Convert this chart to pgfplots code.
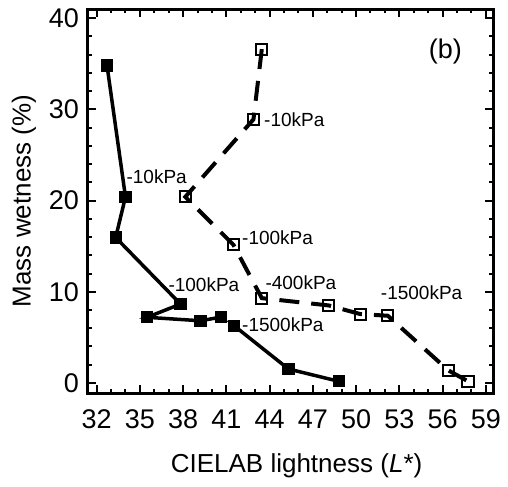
\documentclass[border=0pt]{standalone}
\usepackage{fontspec}
\setmainfont{Liberation Sans}
\usepackage{pgfplots}
\pgfplotsset{compat=1.18}

\begin{document}
\fontsize{13bp}{16bp}\selectfont
\begin{tikzpicture}
\begin{axis}[
  scale only axis,
  width=202.5bp, height=192bp,
  xmin=31.4, xmax=59.5,
  ymin=-1.1, ymax=41,
  xtick={32,35,...,59},
  ytick={0,10,...,40},
  minor x tick num=2,
  minor y tick num=4,
  tick align=inside,
  major tick length=4bp,
  minor tick length=2bp,
  every tick/.style={black, line width=1bp},
  axis line style={line width=1.5bp},
  /pgf/number format/assume math mode=true,
  tick label style={font=\fontsize{13.5bp}{16bp}\selectfont},
  xticklabel style={yshift=-4bp},
  xlabel={CIELAB lightness (\textit{L}*)},
  ylabel={Mass wetness (\%)},
  label style={font=\fontsize{13bp}{16bp}\selectfont},
  x label style={at={(axis description cs:0.515,-0.19)}, anchor=center},
  y label style={at={(axis description cs:-0.158,0.5)}, anchor=center},
  clip=false,
]
\coordinate (bl) at (rel axis cs:0,0);
\coordinate (tr) at (rel axis cs:1,1);
% solid line, filled squares
\addplot[black, line width=1.75bp, mark=square*, mark size=2.8bp,
  mark options={solid, line width=0.5bp}] coordinates {
  (32.72,34.8) (34.0,20.4) (33.32,15.95) (37.82,8.65) (35.5,7.2)
  (39.2,6.82) (40.63,7.22)
};
\addplot[blue, line width=0.5bp] coordinates {(40.63,7.22) (41.53,6.28)};
\addplot[black, line width=1.75bp, mark=square*, mark size=2.8bp,
  mark options={solid, line width=0.5bp}] coordinates {
  (41.53,6.28) (45.31,1.53) (48.8,0.18)
};
% dashed line, open squares
\addplot[black, line width=2bp, dash pattern=on 10bp off 6bp,
  mark=square, mark size=2.8bp, mark options={solid, line width=1bp}] coordinates {
  (43.46,36.6) (42.88,28.9) (38.15,20.4) (41.49,15.15) (43.46,9.3)
  (48.1,8.5) (50.3,7.55) (52.2,7.37) (56.4,1.38) (57.77,0.18)
};
\begin{scope}[every node/.style={font=\fontsize{9.5bp}{11bp}\selectfont, anchor=west, inner sep=0pt}]
\node at (axis cs:34.05,22.6) {-10kPa};
\node at (axis cs:43.6,28.9) {-10kPa};
\node at (axis cs:42.07,15.95) {-100kPa};
\node at (axis cs:36.96,10.77) {-100kPa};
\node at (axis cs:43.69,11.0) {-400kPa};
\node at (axis cs:51.7,9.92) {-1500kPa};
\node at (axis cs:42.07,6.4) {-1500kPa};
\end{scope}
\node[font=\fontsize{13.5bp}{16bp}\selectfont] at (axis cs:56.2,36.3) {(b)};
\end{axis}
\pgfresetboundingbox
\path ([xshift=-44bp,yshift=-47bp]bl) rectangle ([xshift=7.5bp,yshift=4.5bp]tr);
\end{tikzpicture}
\end{document}
